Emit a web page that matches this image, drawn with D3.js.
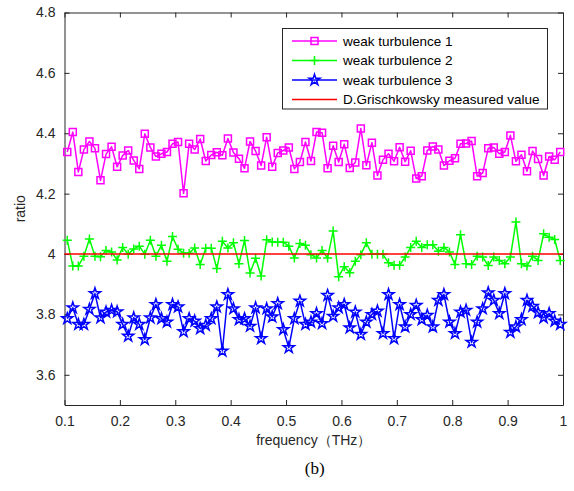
<!DOCTYPE html>
<html><head><meta charset="utf-8">
<script src="https://cdn.jsdelivr.net/npm/d3@7"></script>
<style>body{margin:0;background:#fff}svg{display:block}</style>
</head><body>
<svg id="c" width="574" height="491"></svg>
<script>
const freq = [0.105,0.115,0.125,0.135,0.145,0.155,0.165,0.175,0.185,0.195,
0.205,0.215,0.225,0.235,0.245,0.255,0.265,0.275,0.285,0.295,
0.305,0.315,0.325,0.335,0.345,0.355,0.365,0.375,0.385,0.395,
0.405,0.415,0.425,0.435,0.445,0.455,0.465,0.475,0.485,0.495,
0.505,0.515,0.525,0.535,0.545,0.555,0.565,0.575,0.585,0.595,
0.605,0.615,0.625,0.635,0.645,0.655,0.665,0.675,0.685,0.695,
0.705,0.715,0.725,0.735,0.745,0.755,0.765,0.775,0.785,0.795,
0.805,0.815,0.825,0.835,0.845,0.855,0.865,0.875,0.885,0.895,
0.905,0.915,0.925,0.935,0.945,0.955,0.965,0.975,0.985,0.995];
const weak1 = [4.338,4.404,4.272,4.346,4.373,4.350,4.244,4.331,4.355,4.289,
4.326,4.343,4.310,4.282,4.398,4.353,4.323,4.332,4.338,4.365,
4.371,4.201,4.365,4.346,4.381,4.308,4.328,4.337,4.327,4.383,
4.336,4.316,4.284,4.373,4.341,4.293,4.387,4.289,4.335,4.343,
4.353,4.282,4.305,4.371,4.308,4.404,4.402,4.284,4.359,4.305,
4.364,4.285,4.303,4.416,4.294,4.369,4.260,4.312,4.332,4.307,
4.354,4.306,4.342,4.250,4.258,4.343,4.356,4.346,4.293,4.309,
4.317,4.365,4.366,4.374,4.258,4.268,4.350,4.353,4.332,4.338,
4.393,4.307,4.329,4.274,4.341,4.315,4.260,4.323,4.312,4.338];
const weak2 = [4.046,3.960,3.960,3.993,4.050,3.993,3.991,4.012,4.007,3.980,
4.022,3.999,4.017,4.026,3.999,4.046,3.993,4.029,3.976,4.058,
4.016,4.003,4.003,4.020,3.965,4.019,4.019,3.952,4.042,4.020,
4.037,3.968,4.045,3.937,3.986,3.927,4.047,4.040,4.039,4.039,
4.026,3.987,4.035,4.029,3.998,3.987,4.012,3.987,4.076,3.925,
3.958,3.938,3.976,3.998,4.037,3.999,3.999,3.999,3.971,3.963,
3.963,3.990,4.022,4.042,4.022,4.031,4.031,4.009,4.022,4.007,
3.965,4.064,3.968,3.965,3.993,3.990,3.962,3.990,3.979,3.968,
3.990,4.106,3.968,3.960,3.993,3.979,4.067,4.056,4.048,3.979];
const weak3 = [3.786,3.822,3.767,3.767,3.817,3.869,3.789,3.808,3.814,3.809,
3.767,3.728,3.789,3.767,3.717,3.789,3.833,3.786,3.775,3.833,
3.825,3.743,3.786,3.778,3.753,3.764,3.786,3.825,3.679,3.866,
3.819,3.783,3.786,3.761,3.822,3.720,3.819,3.792,3.836,3.750,
3.690,3.786,3.844,3.767,3.775,3.803,3.770,3.863,3.794,3.822,
3.833,3.756,3.808,3.734,3.775,3.800,3.811,3.737,3.866,3.720,
3.833,3.759,3.800,3.830,3.783,3.797,3.759,3.847,3.866,3.775,
3.737,3.808,3.814,3.708,3.775,3.819,3.872,3.847,3.803,3.869,
3.741,3.759,3.783,3.847,3.827,3.806,3.789,3.803,3.778,3.767];
const measured = 4.0;
const xTicks = [0.1,0.2,0.3,0.4,0.5,0.6,0.7,0.8,0.9,1];
const yTicks = [3.6,3.8,4.0,4.2,4.4,4.6,4.8];
const seriesNames = ["weak turbulence 1","weak turbulence 2","weak turbulence 3","D.Grischkowsky measured value"];
const colors = ["#ff00ff","#00ff00","#0000ff","#ff0000"];
const markers = ["square","plus","star","none"];

const svg = d3.select("#c");
const L=64.5, R=563, T=12.5, B=405;
const x = d3.scaleLinear().domain([0.1,1]).range([L,R]);
const y = d3.scaleLinear().domain([3.5,4.8]).range([B,T]);
const axCol = "#262626";
const font = "'Liberation Sans', Arial, Helvetica, sans-serif";

const gx = svg.append("g").attr("transform",`translate(0,${B})`)
  .call(d3.axisBottom(x).tickValues(xTicks).tickSizeInner(-5).tickSizeOuter(0).tickPadding(11)
    .tickFormat(d=>d3.format("")(d)));
const gxt = svg.append("g").attr("transform",`translate(0,${T})`)
  .call(d3.axisTop(x).tickValues(xTicks).tickSizeInner(-5).tickSizeOuter(0).tickFormat(""));
const gy = svg.append("g").attr("transform",`translate(${L},0)`)
  .call(d3.axisLeft(y).tickValues(yTicks).tickSizeInner(-5).tickSizeOuter(0).tickPadding(9)
    .tickFormat(d=>d3.format("")(d)));
const gyr = svg.append("g").attr("transform",`translate(${R},0)`)
  .call(d3.axisRight(y).tickValues(yTicks).tickSizeInner(-5).tickSizeOuter(0).tickFormat(""));
[gx,gxt,gy,gyr].forEach(g=>{
  g.selectAll("path").attr("stroke",axCol).attr("stroke-width",1);
  g.selectAll("line").attr("stroke",axCol).attr("stroke-width",1);
  g.selectAll("text").attr("fill",axCol).attr("font-family",font).attr("font-size",14);
});

const symPath = {
  square: d3.symbol(d3.symbolSquare, 49)(),
  plus: "M-4.5,0H4.5M0,-4.5V4.5",
  star: d3.symbol(d3.symbolStar, 38)()
};

const data = [weak1,weak2,weak3];
const line = d3.line().x(d=>x(d[0])).y(d=>y(d[1]));
const plot = svg.append("g");
data.forEach((vals,i)=>{
  const pts = freq.map((f,j)=>[f,vals[j]]);
  const g = plot.append("g");
  g.append("path").attr("d",line(pts)).attr("fill","none")
    .attr("stroke",colors[i]).attr("stroke-width",1.5).attr("stroke-linejoin","round");
  g.selectAll("path.m").data(pts).join("path").attr("class","m")
    .attr("transform",d=>`translate(${x(d[0])},${y(d[1])})`)
    .attr("d",symPath[markers[i]]).attr("fill","none")
    .attr("stroke",colors[i]).attr("stroke-width",1.5);
});
plot.append("path").attr("d",line([[0.1,measured],[1,measured]]))
  .attr("stroke",colors[3]).attr("stroke-width",1.5).attr("fill","none");

const lg = svg.append("g");
lg.append("rect").attr("x",282.5).attr("y",28.5).attr("width",265).attr("height",80.5)
  .attr("fill","#fff").attr("stroke",axCol).attr("stroke-width",1);
const rowY = [41,60.5,80,99.5];
seriesNames.forEach((n,i)=>{
  lg.append("line").attr("x1",292).attr("x2",337).attr("y1",rowY[i]).attr("y2",rowY[i])
    .attr("stroke",colors[i]).attr("stroke-width",1.5);
  if(markers[i]!=="none") lg.append("path").attr("d",symPath[markers[i]])
    .attr("transform",`translate(314.5,${rowY[i]})`).attr("fill","none")
    .attr("stroke",colors[i]).attr("stroke-width",1.5);
  lg.append("text").attr("x",343).attr("y",rowY[i]).attr("dy","0.35em")
    .attr("font-family",font).attr("font-size",13.5).attr("fill","#000").text(n);
});

svg.append("text").attr("transform",`translate(25,${(T+B)/2}) rotate(-90)`)
  .attr("text-anchor","middle").attr("font-family",font).attr("font-size",14)
  .attr("fill",axCol).text("ratio");
svg.append("text").attr("x",(L+R)/2).attr("y",445).attr("text-anchor","middle")
  .attr("font-family",font).attr("font-size",14).attr("fill",axCol).text("frequency（THz）");
svg.append("text").attr("x",(L+R)/2+1).attr("y",474).attr("text-anchor","middle")
  .attr("font-family","'Liberation Serif','Times New Roman',serif").attr("font-size",17)
  .attr("fill","#000").text("(b)");
</script>
</body></html>
